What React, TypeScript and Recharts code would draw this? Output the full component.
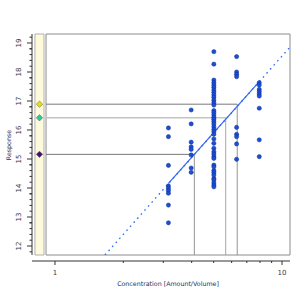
import { ComposedChart, Scatter, XAxis, YAxis, ReferenceArea } from 'recharts';

// concentration levels (log spaced) and the measured responses at each
const concentrations = [3.16, 3.98, 5.01, 6.31, 7.94];
const responsesAt316 = [16.07, 15.77, 14.78, 14.07, 13.99, 13.91, 13.82, 13.41, 12.8];
const responsesAt398 = [16.69, 16.21, 15.58, 15.42, 15.33, 15.14, 14.69, 14.54];
const responsesAt501 = [
  18.7, 18.27, 17.72, 17.63, 17.55, 17.47, 17.38, 17.3, 17.21, 17.13, 17.03, 16.94, 16.86,
  16.67, 16.6, 16.52, 16.44, 16.37, 16.29, 16.21, 16.11, 16.02, 15.94, 15.85, 15.69, 15.54,
  15.37, 15.25, 15.17, 15.08, 15.02, 14.79, 14.73, 14.6, 14.53, 14.45, 14.33, 14.28, 14.18,
  14.1, 14.04,
];
const responsesAt631 = [18.53, 18.0, 17.92, 17.84, 16.09, 15.85, 15.77, 15.52, 14.99];
const responsesAt794 = [17.63, 17.55, 17.4, 17.32, 17.24, 17.17, 16.75, 15.66, 15.08];
const responses = [responsesAt316, responsesAt398, responsesAt501, responsesAt631, responsesAt794];

// calibration line: solid over the data range, dotted extrapolation
const fitSolid = [
  { x: 3.16, y: 14.16 },
  { x: 7.94, y: 17.67 },
];
const fitDotted = [
  { x: 1.66, y: 11.69 },
  { x: 10.85, y: 18.86 },
];

// unknown samples read back through the curve
const readoutResponse = [16.89, 16.42, 15.16];
const readoutConc = [6.35, 5.65, 4.11];
const readoutColors = ['#e8e012', '#2ec79e', '#4b0a7d'];
const readoutLineColors = ['#777777', '#c4c4c4', '#777777'];
const readoutDropColors = ['#959595', '#a5a5a5', '#959595'];

const xTicks = [1, 2, 3, 4, 5, 6, 7, 8, 9, 10];
const xLabels = [1, 10];
const yLabels = [12, 13, 14, 15, 16, 17, 18, 19];

// axis extents
const X_MIN = 0.792;
const X_MAX = 10.845;
const BOX_LEFT = 0.913;
const STRIP_LEFT = 0.816;
const STRIP_RIGHT = 0.8945;
const STRIP_MID = 0.8546;
const Y_MIN = 11.69;
const Y_MAX = 19.31;

const yTicks = yLabels.flatMap(v => [v - 0.2, v, v + 0.2, v + 0.4, v + 0.6, v + 0.8])
  .filter(v => v > Y_MIN && v < Y_MAX);

const points = concentrations.flatMap((c, i) => responses[i].map(r => ({ x: c, y: r })));

const AXIS = '#333';
const TEXT = '#3a3a46';

function XTick({ x, y, payload }: any) {
  const v = payload.value;
  const major = xLabels.includes(v);
  return (
    <g>
      <line x1={x} x2={x} y1={y + 6} y2={y + (major ? 10 : 8)} stroke={AXIS} />
      {major && (
        <text x={x} y={y + 20} textAnchor="middle" fontSize={7} fill={TEXT}>
          {v}
        </text>
      )}
    </g>
  );
}

function YTick({ x, y, payload }: any) {
  const v = payload.value;
  const major = Math.abs(v - Math.round(v)) < 1e-6;
  return (
    <g>
      <line x1={x - (major ? 5 : 2.5)} x2={x} y1={y} y2={y} stroke={AXIS} />
      {major && (
        <text
          x={x - 13}
          y={y}
          transform={`rotate(-90 ${x - 13} ${y})`}
          textAnchor="middle"
          dominantBaseline="central"
          fontSize={7}
          fill={TEXT}
        >
          {Math.round(v)}
        </text>
      )}
    </g>
  );
}

const Dot = ({ cx, cy }: any) => (
  <circle cx={cx} cy={cy} r={2.1} fill="#1c4fd6" stroke="#0d2c90" strokeWidth={0.5} />
);

const Diamond = ({ cx, cy, payload }: any) => (
  <polygon
    points={`${cx},${cy - 3.2} ${cx + 3.2},${cy} ${cx},${cy + 3.2} ${cx - 3.2},${cy}`}
    fill={payload.fill}
    stroke="#555"
    strokeWidth={0.5}
  />
);

const Nothing = () => <g />;

export default function App() {
  const diamonds = readoutResponse.map((v, i) => ({ x: STRIP_MID, y: v, fill: readoutColors[i] }));

  return (
    <div style={{ position: 'absolute', left: 0, top: 0, width: 300, height: 300, background: '#fff' }}>
      <ComposedChart
        width={300}
        height={300}
        margin={{ top: 34, right: 10, bottom: 0, left: 0 }}
        style={{ fontFamily: 'DejaVu Sans' }}
      >
        <XAxis
          dataKey="x"
          type="number"
          scale="log"
          domain={[X_MIN, X_MAX]}
          allowDataOverflow
          ticks={xTicks}
          interval={0}
          height={45}
          tickSize={0}
          tickMargin={0}
          tickLine={false}
          axisLine={{ stroke: AXIS, transform: 'translate(0,6)' }}
          tick={<XTick />}
        />
        <YAxis
          dataKey="y"
          type="number"
          domain={[Y_MIN, Y_MAX]}
          allowDataOverflow
          ticks={yTicks}
          interval={0}
          width={32}
          tickSize={0}
          tickMargin={0}
          tickLine={false}
          axisLine={{ stroke: AXIS }}
          tick={<YTick />}
        />
        <ReferenceArea x1={STRIP_LEFT} x2={STRIP_RIGHT} y1={Y_MIN} y2={Y_MAX} fill="#fdfbdc" fillOpacity={1} stroke="#b0b0b0" ifOverflow="visible" />
        <ReferenceArea x1={BOX_LEFT} x2={X_MAX} y1={Y_MIN} y2={Y_MAX} fill="#fff" fillOpacity={1} stroke="#8c8c8c" ifOverflow="visible" />
        {readoutResponse.map((v, i) => (
          <Scatter
            key={`h${i}`}
            data={[{ x: BOX_LEFT, y: v }, { x: readoutConc[i], y: v }]}
            line={{ stroke: readoutLineColors[i], strokeWidth: i === 1 ? 1.6 : 1 }}
            shape={<Nothing />}
            isAnimationActive={false}
          />
        ))}
        {readoutConc.map((c, i) => (
          <Scatter
            key={`v${i}`}
            data={[{ x: c, y: readoutResponse[i] }, { x: c, y: Y_MIN }]}
            line={{ stroke: readoutDropColors[i], strokeWidth: 1 }}
            shape={<Nothing />}
            isAnimationActive={false}
          />
        ))}
        <Scatter
          data={fitDotted}
          line={{ stroke: '#2f68f2', strokeWidth: 1.3, strokeDasharray: '1.6 3.8' }}
          shape={<Nothing />}
          isAnimationActive={false}
        />
        <Scatter data={fitSolid} line={{ stroke: '#2f68f2', strokeWidth: 1.2 }} shape={<Nothing />} isAnimationActive={false} />
        <Scatter data={points} shape={<Dot />} isAnimationActive={false} />
        <Scatter data={diamonds} shape={<Diamond />} isAnimationActive={false} />
        <text x={8} y={145} transform="rotate(-90 8 145)" textAnchor="middle" dominantBaseline="central" fontSize={6.3} fill="#22305a">
          Response
        </text>
        <text x={168} y={286} textAnchor="middle" fontSize={6.3} fill="#22305a">
          Concentration [Amount/Volume]
        </text>
      </ComposedChart>
    </div>
  );
}
